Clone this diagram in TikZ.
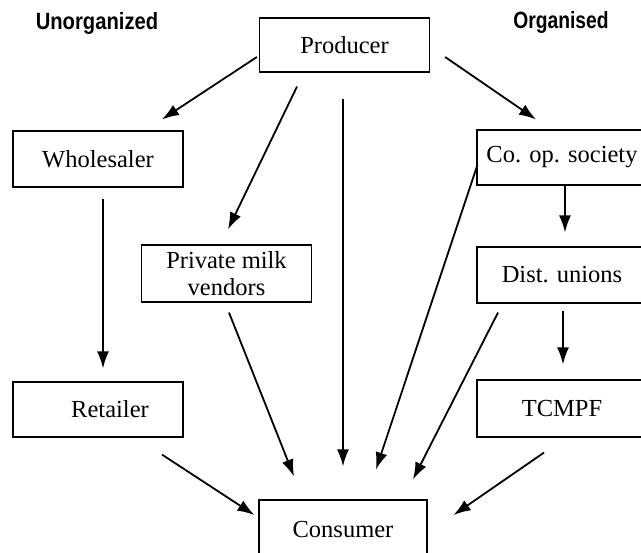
\documentclass[tikz,border=0pt]{standalone}
\usepackage{fontspec}
\setmainfont{Liberation Serif}
\newfontfamily\headfont{Liberation Sans}
\usetikzlibrary{arrows.meta}

\tikzset{
  box/.style={draw, line width=1.2pt, minimum width=170pt, inner sep=0pt,
              font=\fontsize{24.5}{28}\selectfont, align=center},
  head/.style={font=\headfont\bfseries\fontsize{23.5}{26}\selectfont, inner sep=0pt},
  flow/.style={line width=1.8pt, -{Latex[length=17pt,width=12pt]}}
}

\begin{document}
\begin{tikzpicture}[x=1pt,y=-1pt]
  \useasboundingbox (0,0) rectangle (641,553);
  \fill[white] (0,0) rectangle (641,553);

  % column headings
  \node[head] (hu) at (97,23)  {\scalebox{0.86}[1]{Unorganized}};
  \node[head] (ho) at (561,22) {\scalebox{0.82}[1]{Organised}};

  % boxes
  \node[box, minimum height=54pt] (prod)  at (344.5,45)  {Producer};
  \node[box, minimum height=56pt] (whole) at (98,159)    {Wholesaler};
  \node[box, minimum height=57pt] (priv)  at (226.5,273.5) {Private milk\\[-1pt]vendors};
  \node[box, minimum height=55pt] (ret)   at (98,409.5)  {\hspace*{24pt}Retailer};
  \node[box, minimum height=55pt] (coop)  at (562,157.5) {Co. op. society};
  \node[box, minimum height=56pt] (dist)  at (562,275)   {Dist. unions};
  \node[box, minimum height=57pt] (tcm)   at (562,408.5) {TCMPF};
  \node[box, minimum width=168pt, minimum height=60pt] (cons) at (343,530) {Consumer};

  % flows out of the producer
  \draw[flow] ([shift={(-2,12)}]prod.west)    -- ([shift={(64,-11)}]whole.north);
  \draw[flow] ([shift={(-47.5,14)}]prod.south) -- ([shift={(1.5,-15)}]priv.north);
  \draw[flow] ([shift={(-1.5,26)}]prod.south)  -- ([shift={(0,-33)}]cons.north);
  \draw[flow] ([shift={(15,12)}]prod.east)     -- ([shift={(-26,-10)}]coop.north);

  % unorganised chain
  \draw[flow] ([shift={(5,11)}]whole.south) -- ([shift={(5,-13)}]ret.north);
  \draw[flow] ([shift={(2.5,10)}]priv.south) -- ([shift={(-49,-23)}]cons.north);
  \draw[flow] ([shift={(64,17)}]ret.south)   -- ([shift={(-4,-15)}]cons.west);

  % organised chain
  \draw[flow] ([shift={(3,0)}]coop.south) -- ([shift={(3,-14)}]dist.north);
  \draw[flow] ([shift={(1,7)}]dist.south) -- ([shift={(1,-15)}]tcm.north);
  \draw[flow] ([shift={(1,7.5)}]coop.west)  -- ([shift={(33,-30)}]cons.north);
  \draw[flow] ([shift={(-64,9)}]dist.south) -- ([shift={(70,-20)}]cons.north);
  \draw[flow] ([shift={(-18,15)}]tcm.south) -- ([shift={(26,-15)}]cons.east);
\end{tikzpicture}
\end{document}
